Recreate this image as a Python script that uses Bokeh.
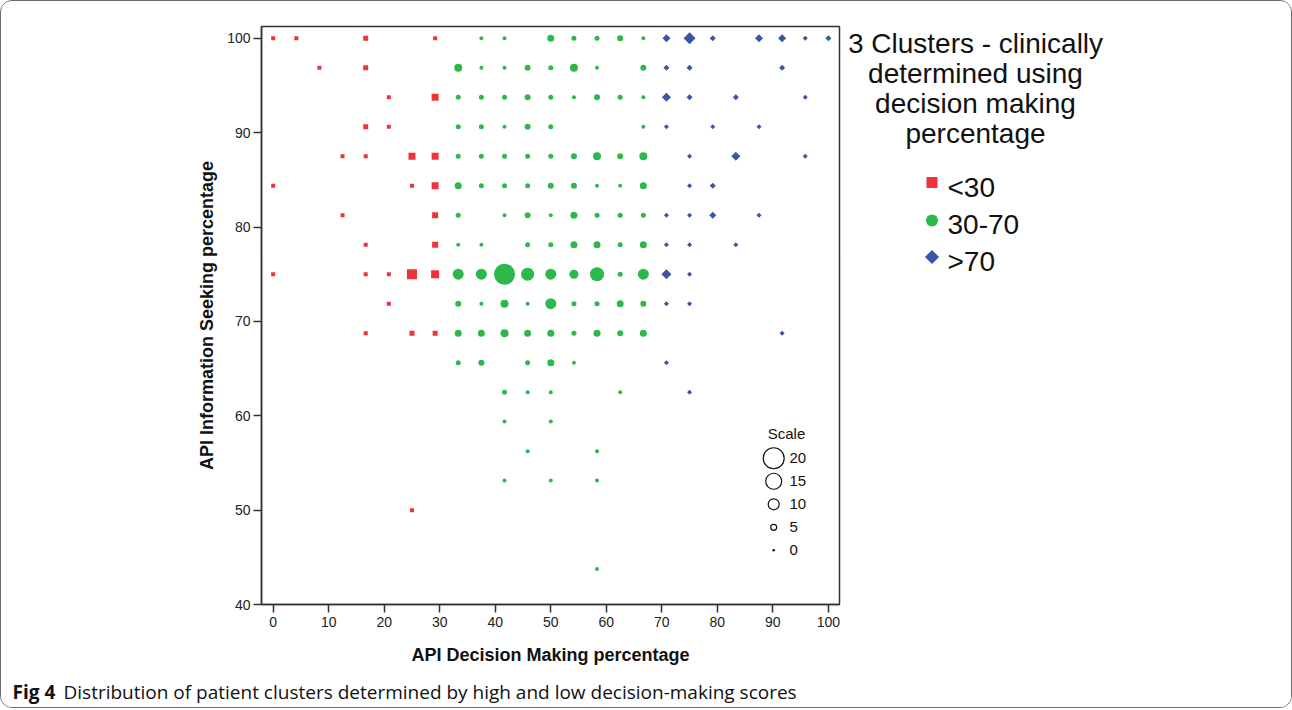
import math
from bokeh.plotting import figure
from bokeh.layouts import column, row
from bokeh.models import Range1d, FixedTicker, Label
from bokeh.embed import file_html
from bokeh.resources import INLINE
from bokeh.core.properties import value

# ---------------- data ----------------
# cluster "<30" (red squares): x = decision making %, y = information seeking %, n = count
red_x = [0, 4.17, 16.67, 29.17,
         8.33, 16.67,
         20.83, 29.17,
         16.67, 20.83,
         12.5, 16.67, 25, 29.17,
         0, 25, 29.17,
         12.5, 29.17,
         16.67, 29.17,
         0, 16.67, 20.83, 25, 29.17,
         20.83,
         16.67, 25, 29.17,
         25]
red_y = [100, 100, 100, 100,
         96.88, 96.88,
         93.75, 93.75,
         90.63, 90.63,
         87.5, 87.5, 87.5, 87.5,
         84.38, 84.38, 84.38,
         81.25, 81.25,
         78.13, 78.13,
         75, 75, 75, 75, 75,
         71.88,
         68.75, 68.75, 68.75,
         50]
red_n = [3, 3, 4, 3,
         3, 4,
         3, 6,
         4, 3,
         3, 3, 6, 6,
         3, 3, 6,
         3, 5,
         3, 5,
         3, 3, 3, 9, 7,
         3,
         3, 4, 4,
         3]

# cluster "30-70" (green circles)
green_x = [37.5, 41.67, 50, 54.17, 58.33, 62.5, 66.67,
           33.33, 37.5, 41.67, 45.83, 50, 54.17, 58.33, 66.67,
           33.33, 37.5, 41.67, 45.83, 50, 54.17, 58.33, 62.5, 66.67,
           33.33, 37.5, 41.67, 45.83, 50, 66.67,
           33.33, 37.5, 41.67, 45.83, 50, 54.17, 58.33, 62.5, 66.67,
           33.33, 37.5, 41.67, 45.83, 50, 54.17, 58.33, 62.5, 66.67,
           33.33, 41.67, 45.83, 50, 54.17, 58.33, 62.5, 66.67,
           33.33, 37.5, 45.83, 50, 54.17, 58.33, 62.5, 66.67,
           33.33, 37.5, 41.67, 45.83, 50, 54.17, 58.33, 62.5, 66.67,
           33.33, 37.5, 41.67, 45.83, 50, 54.17, 58.33, 62.5, 66.67,
           33.33, 37.5, 41.67, 45.83, 50, 54.17, 58.33, 62.5, 66.67,
           33.33, 37.5, 45.83, 50, 54.17,
           41.67, 45.83, 50, 62.5,
           41.67, 50,
           45.83, 58.33,
           41.67, 50, 58.33,
           58.33]
green_y = [100, 100, 100, 100, 100, 100, 100,
           96.88, 96.88, 96.88, 96.88, 96.88, 96.88, 96.88, 96.88,
           93.75, 93.75, 93.75, 93.75, 93.75, 93.75, 93.75, 93.75, 93.75,
           90.63, 90.63, 90.63, 90.63, 90.63, 90.63,
           87.5, 87.5, 87.5, 87.5, 87.5, 87.5, 87.5, 87.5, 87.5,
           84.38, 84.38, 84.38, 84.38, 84.38, 84.38, 84.38, 84.38, 84.38,
           81.25, 81.25, 81.25, 81.25, 81.25, 81.25, 81.25, 81.25,
           78.13, 78.13, 78.13, 78.13, 78.13, 78.13, 78.13, 78.13,
           75, 75, 75, 75, 75, 75, 75, 75, 75,
           71.88, 71.88, 71.88, 71.88, 71.88, 71.88, 71.88, 71.88, 71.88,
           68.75, 68.75, 68.75, 68.75, 68.75, 68.75, 68.75, 68.75, 68.75,
           65.63, 65.63, 65.63, 65.63, 65.63,
           62.5, 62.5, 62.5, 62.5,
           59.38, 59.38,
           56.25, 56.25,
           53.13, 53.13, 53.13,
           43.75]
green_n = [3, 3, 6, 4, 4, 5, 3,
           7, 3, 3, 5, 4, 7, 3, 5,
           4, 4, 4, 5, 4, 3, 5, 4, 3,
           4, 4, 3, 5, 4, 3,
           4, 4, 4, 4, 4, 5, 7, 5, 7,
           6, 4, 4, 4, 5, 5, 3, 3, 6,
           4, 3, 5, 3, 6, 4, 4, 4,
           3, 3, 4, 4, 6, 6, 4, 6,
           10, 10, 20, 12, 10, 8, 13, 4, 10,
           5, 3, 7, 3, 10, 4, 4, 6, 5,
           6, 6, 7, 6, 6, 4, 6, 5, 6,
           4, 5, 4, 6, 3,
           4, 3, 3, 3,
           3, 3,
           3, 3,
           3, 3, 3,
           3]

# cluster ">70" (blue diamonds)
blue_x = [70.83, 75, 79.17, 87.5, 91.67, 95.83, 100,
          70.83, 75, 91.67,
          70.83, 75, 83.33, 95.83,
          70.83, 79.17, 87.5,
          75, 83.33, 95.83,
          75, 79.17,
          70.83, 75, 79.17, 87.5,
          70.83, 75, 83.33,
          70.83, 75,
          70.83, 75,
          91.67,
          70.83,
          75]
blue_y = [100, 100, 100, 100, 100, 100, 100,
          96.88, 96.88, 96.88,
          93.75, 93.75, 93.75, 93.75,
          90.63, 90.63, 90.63,
          87.5, 87.5, 87.5,
          84.38, 84.38,
          81.25, 81.25, 81.25, 81.25,
          78.13, 78.13, 78.13,
          75, 75,
          71.88, 71.88,
          68.75,
          65.63,
          62.5]
blue_n = [7, 11, 5, 7, 7, 4, 5,
          5, 5, 5,
          8, 5, 5, 4,
          4, 4, 4,
          4, 8, 4,
          4, 5,
          4, 4, 6, 4,
          4, 4, 4,
          9, 4,
          4, 4,
          4,
          4,
          4]

cluster_labels = ["<30", "30-70", ">70"]
scale_values = [20, 15, 10, 5, 0]
scale_labels = ["20", "15", "10", "5", "0"]
x_ticks = [0, 10, 20, 30, 40, 50, 60, 70, 80, 90, 100]
y_ticks = [40, 50, 60, 70, 80, 90, 100]

legend_title_lines = ["3 Clusters - clinically", "determined using",
                      "decision making", "percentage"]
x_title = "API Decision Making percentage"
y_title = "API Information Seeking percentage"
caption_bold = "Fig 4"
caption_text = "Distribution of patient clusters determined by high and low decision-making scores"

# ---------------- styling ----------------
RED = "#F0333B"
GREEN = "#2DB84C"
BLUE = "#3A54A6"
AX = "#333333"
TXT = "#111111"
FONT = "Liberation Sans"

TOTAL_W, TOTAL_H = 1290, 706
MW, MH = 848, 673            # main figure
FL, FT, FW, FH = 260, 25, 578, 578
FB = MH - FT - FH
LW = TOTAL_W - MW            # legend panel
CH = TOTAL_H - MH            # caption strip
OX, OY = 1, 1                # page offset of the content (inside the border)


def sz(n):
    return 1 + n


# ---------------- main scatter ----------------
p = figure(width=MW, height=MH, output_backend="svg", toolbar_location=None,
           x_range=Range1d(-2.1, 102), y_range=Range1d(40, 101.25),
           min_border_left=FL, min_border_right=MW - FL - FW,
           min_border_top=FT, min_border_bottom=FB)
p.grid.visible = False
p.outline_line_color = AX
p.outline_line_width = 1.5
p.background_fill_color = "white"
p.border_fill_color = "white"

for ax in (p.xaxis[0], p.yaxis[0]):
    ax.axis_line_color = AX
    ax.axis_line_width = 1.5
    ax.major_tick_line_color = AX
    ax.major_tick_line_width = 1.5
    ax.major_tick_out = 8
    ax.major_tick_in = 0
    ax.minor_tick_out = 0
    ax.minor_tick_in = 0
    ax.major_label_text_font = FONT
    ax.major_label_text_font_size = "14px"
    ax.major_label_text_color = "#222222"
    ax.axis_label_text_font = FONT
    ax.axis_label_text_font_size = "18px"
    ax.axis_label_text_font_style = "bold"
    ax.axis_label_text_color = TXT

p.xaxis.ticker = FixedTicker(ticks=x_ticks)
p.yaxis.ticker = FixedTicker(ticks=y_ticks)
p.xaxis.axis_label = x_title
p.yaxis.axis_label = y_title
p.xaxis.major_label_standoff = 4
p.yaxis.major_label_standoff = 3
p.xaxis.axis_label_standoff = 15
p.yaxis.axis_label_standoff = 7

p.scatter(red_x, red_y, size=[sz(n) for n in red_n], marker="square",
          fill_color=RED, line_color=None)
p.scatter(green_x, green_y, size=[sz(n) for n in green_n], marker="circle",
          fill_color=GREEN, line_color=None)
p.scatter(blue_x, blue_y, size=[sz(n) / math.sqrt(2) for n in blue_n],
          marker="square", angle=math.pi / 4, fill_color=BLUE, line_color=None)

# size scale key (inside the plot area)
sk_x = 90.15
sk_top = 55.5
sk_step = 2.44
sk_ys = [sk_top - i * sk_step for i in range(len(scale_values))]
p.scatter([sk_x] * 4, sk_ys[:4], size=[sz(v) for v in scale_values[:4]], marker="circle",
          fill_color=None, line_color=TXT, line_width=1.2)
p.scatter([sk_x], [sk_ys[4]], size=2.6, marker="circle", fill_color=TXT, line_color=None)
p.text([sk_x + 2.85] * len(scale_labels), sk_ys, text=scale_labels,
       text_font=value(FONT), text_font_size=value("15px"), text_color=TXT,
       text_align="left", text_baseline="middle")
p.add_layout(Label(x=sk_x + 2.3, y=58.15, text="Scale", text_font=FONT, text_font_size="15px",
                   text_color=TXT, text_align="center", text_baseline="middle"))

# ---------------- cluster legend panel (page pixel coordinates, y down) ----------------
# its frame is aligned with the main frame by the row layout, so give it the same borders
lg_x0 = OX + MW
lg_top = OY + FT
lg_bottom = OY + FT + FH
lg = figure(width=LW, height=MH, output_backend="svg", toolbar_location=None,
            x_range=Range1d(lg_x0, lg_x0 + LW), y_range=Range1d(lg_bottom, lg_top),
            x_axis_location=None, y_axis_location=None,
            min_border_left=0, min_border_right=0,
            min_border_top=FT, min_border_bottom=FB)
lg.grid.visible = False
lg.outline_line_color = None
lg.background_fill_color = "white"
lg.border_fill_color = "white"

title_x = 975
title_ys = [43, 73, 103, 133]
lg.text([title_x] * len(legend_title_lines), title_ys, text=legend_title_lines,
        text_font=value(FONT), text_font_size=value("28px"), text_color=TXT,
        text_align="center", text_baseline="alphabetic")

key_x = 931.5
key_ys = [182, 220, 256.5]
lg.scatter([key_x], [key_ys[0]], size=11, marker="square", fill_color=RED, line_color=None)
lg.scatter([key_x], [key_ys[1]], size=12, marker="circle", fill_color=GREEN, line_color=None)
lg.scatter([key_x], [key_ys[2]], size=10, marker="square", angle=math.pi / 4,
           fill_color=BLUE, line_color=None)
lg.text([947] * 3, [187, 224, 261], text=cluster_labels,
        text_font=value(FONT), text_font_size=value("28px"), text_color=TXT,
        text_align="left", text_baseline="alphabetic")

# ---------------- caption strip ----------------
cp = figure(width=TOTAL_W, height=CH, output_backend="svg", toolbar_location=None,
            x_range=Range1d(0, TOTAL_W), y_range=Range1d(CH, 0),
            x_axis_location=None, y_axis_location=None, min_border=0)
cp.grid.visible = False
cp.outline_line_color = None
cp.background_fill_color = "white"
cp.border_fill_color = "white"
cp.text([11], [17], text=[caption_bold], text_font=value("Open Sans"),
        text_font_size=value("19px"), text_font_style="bold", text_color=TXT,
        text_align="left", text_baseline="middle")
cp.text([62], [17], text=[caption_text], text_font=value("Open Sans"),
        text_font_size=value("19px"), text_color=TXT,
        text_align="left", text_baseline="middle")

layout = column(row(p, lg), cp)
layout.styles = {"border": "1px solid #6b6b6b", "border-radius": "12px",
                 "overflow": "hidden", "background": "white"}

open("out.html", "w").write(file_html(layout, INLINE))
